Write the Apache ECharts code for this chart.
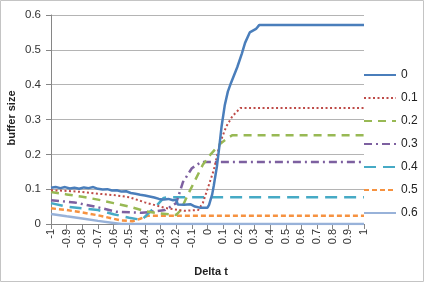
<!DOCTYPE html>
<html><head><meta charset="utf-8">
<script src="https://cdn.jsdelivr.net/npm/echarts@6/dist/echarts.min.js"></script>
<style>html,body{margin:0;padding:0;background:#fff}#c{width:424px;height:282px}</style>
</head><body><div id="c"></div>
<script>
var seriesNames = ['0','0.1','0.2','0.3','0.4','0.5','0.6'];
var s0 = [[-1,0.104],[-0.97,0.106],[-0.94,0.103],[-0.91,0.106],[-0.88,0.102],[-0.85,0.104],[-0.82,0.101],[-0.79,0.105],[-0.76,0.103],[-0.73,0.106],[-0.7,0.101],[-0.67,0.099],[-0.64,0.1],[-0.61,0.096],[-0.58,0.097],[-0.55,0.093],[-0.52,0.094],[-0.49,0.089],[-0.46,0.087],[-0.43,0.084],[-0.4,0.082],[-0.37,0.079],[-0.34,0.076],[-0.31,0.072],[-0.28,0.07],[-0.25,0.072],[-0.22,0.068],[-0.2,0.07],[-0.19,0.056],[-0.15,0.055],[-0.11,0.057],[-0.08,0.05],[-0.05,0.047],[0,0.047],[0.01,0.055],[0.02,0.07],[0.03,0.085],[0.04,0.11],[0.06,0.165],[0.075,0.22],[0.09,0.28],[0.11,0.34],[0.13,0.38],[0.15,0.405],[0.19,0.45],[0.22,0.49],[0.24,0.52],[0.27,0.55],[0.29,0.555],[0.31,0.56],[0.33,0.571],[1,0.571]];
var s1 = [[-1,0.097],[-0.9,0.095],[-0.8,0.092],[-0.7,0.087],[-0.6,0.083],[-0.5,0.077],[-0.4,0.062],[-0.27,0.046],[-0.15,0.038],[-0.06,0.04],[-0.03,0.06],[0,0.1],[0.04,0.155],[0.08,0.233],[0.12,0.28],[0.16,0.31],[0.21,0.333],[1,0.333]];
var s2 = [[-1,0.092],[-0.9,0.085],[-0.8,0.078],[-0.7,0.07],[-0.6,0.06],[-0.5,0.05],[-0.4,0.037],[-0.3,0.03],[-0.2,0.026],[-0.17,0.04],[-0.13,0.08],[-0.08,0.125],[-0.03,0.17],[0.02,0.2],[0.08,0.23],[0.14,0.25],[0.16,0.255],[1,0.255]];
var s3 = [[-1,0.068],[-0.85,0.062],[-0.7,0.048],[-0.58,0.035],[-0.42,0.032],[-0.27,0.04],[-0.2,0.06],[-0.157,0.12],[-0.1,0.16],[-0.04,0.178],[1,0.178]];
var s4 = [[-1,0.06],[-0.9,0.05],[-0.8,0.045],[-0.7,0.04],[-0.6,0.028],[-0.5,0.018],[-0.45,0.014],[-0.42,0.012],[-0.38,0.03],[-0.33,0.05],[-0.28,0.075],[-0.25,0.077],[1,0.077]];
var s5 = [[-1,0.045],[-0.9,0.04],[-0.8,0.033],[-0.7,0.025],[-0.6,0.015],[-0.55,0.01],[-0.48,0.008],[-0.43,0.015],[-0.38,0.024],[1,0.024]];
var s6 = [[-1,0.029],[-0.9,0.022],[-0.8,0.016],[-0.7,0.009],[-0.6,0.003],[-0.55,0],[1,0]];
var allData = [s0,s1,s2,s3,s4,s5,s6];
var colors = ['#4A7EBB','#BE4B48','#98B954','#7D60A0','#46AAC5','#F69240','#98B2D9'];
var dashes = ['solid',[2,2.5],[8,6],[8,4,2,4],[12,7],[5,3],'solid'];
var widths = [2.5,2,2.5,2.5,2.5,2.5,2.5];

var chart = echarts.init(document.getElementById('c'));
var font = 'Liberation Sans';
chart.setOption({
  animation:false,
  textStyle:{fontFamily:font},
  grid:{left:51,right:60,top:15,bottom:58},
  legend:{
    orient:'vertical', left:358, top:63, itemWidth:32, itemHeight:14, itemGap:9,
    textStyle:{fontSize:12,color:'#222',fontFamily:font,lineHeight:14},
    itemStyle:{opacity:0},
    data:seriesNames
  },
  xAxis:{
    type:'value', min:-1, max:1, interval:0.1,
    axisLine:{onZero:false,lineStyle:{color:'#868686'}},
    axisTick:{length:5,lineStyle:{color:'#868686'}},
    splitLine:{show:false},
    axisLabel:{rotate:90,fontSize:11,color:'#333',margin:5,
      formatter:function(v){return String(+v.toFixed(1));}}
  },
  yAxis:{
    type:'value', min:0, max:0.6, interval:0.1,
    axisLine:{show:true,onZero:false,lineStyle:{color:'#868686'}},
    axisTick:{show:true,length:5,lineStyle:{color:'#868686'}},
    splitLine:{lineStyle:{color:'#B4B4B4'}},
    axisLabel:{fontSize:11.5,color:'#333',margin:10,
      formatter:function(v){return String(+v.toFixed(1));}}
  },
  graphic:[
    {type:'rect',shape:{x:0.5,y:0.5,width:423,height:281},style:{fill:'none',stroke:'#C4C4C4',lineWidth:1},silent:true},
    {type:'text',x:12,y:118,rotation:Math.PI/2,style:{text:'buffer size',font:'bold 11px '+font,fill:'#222',textAlign:'center',textVerticalAlign:'middle'}},
    {type:'text',x:211,y:272,style:{text:'Delta t',font:'bold 11px '+font,fill:'#222',textAlign:'center',textVerticalAlign:'middle'}}
  ],
  series: allData.map(function(d,i){
    return {name:seriesNames[i],type:'line',data:d,symbol:'none',
      color:colors[i],z:10-i,
      lineStyle:{color:colors[i],width:widths[i],type:dashes[i]}};
  })
});
</script></body></html>
